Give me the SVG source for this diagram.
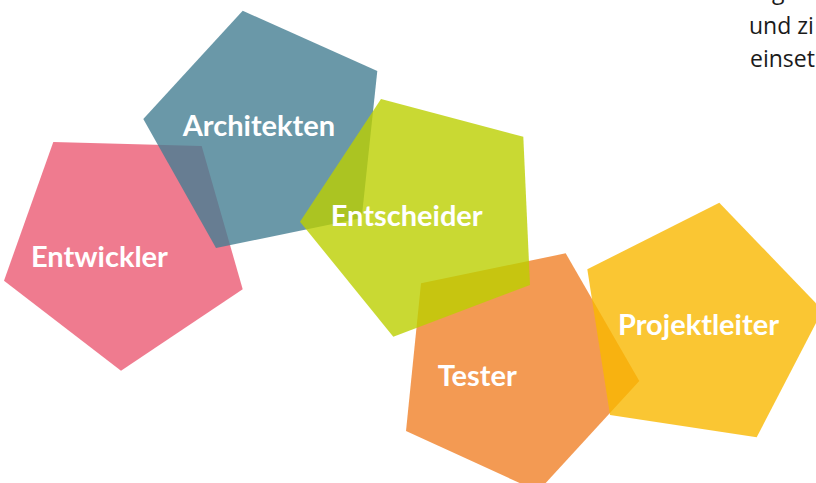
<svg xmlns="http://www.w3.org/2000/svg" width="816" height="483" viewBox="0 0 816 483">
<style>
.shape{fill-opacity:0.8}
.lbl{font-family:Lato,"Open Sans","Liberation Sans",sans-serif;font-weight:700;font-size:29px;fill:#ffffff}
.body{font-family:"Open Sans","Noto Sans","Liberation Sans",sans-serif;font-size:23px;fill:#1a1a1a}
</style>
<rect width="816" height="483" fill="#ffffff"/>
<g id="connectors"></g>
<g id="entwickler">
<polygon class="shape" fill="#EB5A73" points="53.3,142 201.7,146 242.7,289.3 121,370.7 4,280.7"/>
<text class="lbl" x="31" y="267">Entwickler</text>
</g>
<g id="architekten">
<polygon class="shape" fill="#457E92" points="242.7,10.7 377.3,71 361.7,218 216,248 143.3,119"/>
<text class="lbl" x="182.7" y="136">Architekten</text>
</g>
<g id="tester">
<polygon class="shape" fill="#F08128" points="565.7,253.3 639.3,381 538,491.4 406,431 421,283.3"/>
<text class="lbl" x="437.7" y="386">Tester</text>
</g>
<g id="entscheider">
<polygon class="shape" fill="#BBCF00" points="381,99 523.3,136.7 530,285 393.3,336.7 300,221.7"/>
<text class="lbl" x="330.7" y="226">Entscheider</text>
</g>
<g id="projektleiter">
<polygon class="shape" fill="#F9B800" points="719.3,202.7 822.7,310.2 756.7,437.3 610,415 587.3,269.3"/>
<text class="lbl" x="618" y="335">Projektleiter</text>
</g>
<g id="note">
<text class="body" x="772" y="-1">g</text>
<text class="body" x="749" y="34">und zi</text>
<text class="body" x="750" y="66.7">einset</text>
</g>
</svg>
